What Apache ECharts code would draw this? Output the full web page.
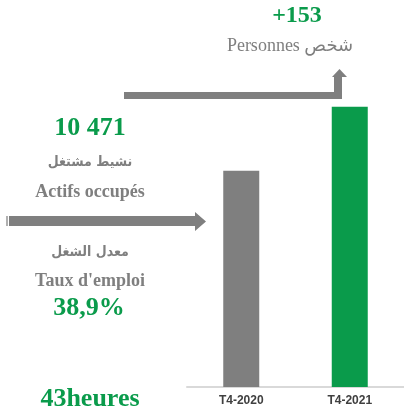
<!DOCTYPE html>
<html>
<head>
<meta charset="utf-8">
<script src="https://cdn.jsdelivr.net/npm/echarts@6/dist/echarts.min.js"></script>
<style>
  html, body { margin: 0; padding: 0; background: #fff; }
  #chart { width: 404px; height: 415px; }
</style>
</head>
<body>
<div id="chart"></div>
<script>
// data
var quarters = ['T4-2020', 'T4-2021'];
var employed = [10318, 10471];
var barColors = ['#7f7f7f', '#0a9b4b'];

var gainText = '+153';
var gainUnit = 'Personnes شخص';
var employedText = '10 471';
var employedLabels = ['نشيط مشتغل', 'Actifs occupés'];
var rateLabels = ['معدل الشغل', "Taux d'emploi"];
var rateText = '38,9%';
var hoursText = '43heures';

var green = '#0a9b4b';
var grey = '#7f7f7f';
var serif = "'Liberation Serif', 'Times New Roman', 'DejaVu Sans', serif";
var arabic = "'DejaVu Sans Condensed', 'DejaVu Sans', sans-serif";

function txt(x, y, s, size, color, bold, family) {
    return {
        type: 'text', x: x, y: y, silent: true,
        style: {
            text: s, fill: color, align: 'center', verticalAlign: 'middle',
            font: (bold ? 'bold ' : '') + size + 'px ' + (family || serif)
        }
    };
}

var chart = echarts.init(document.getElementById('chart'));
chart.setOption({
    animation: false,
    grid: { left: 187, top: 53, width: 224, height: 334 },
    xAxis: {
        type: 'category',
        data: quarters,
        axisLine: { lineStyle: { color: '#d9d9d9', width: 2 } },
        axisTick: { show: false },
        axisLabel: {
            color: '#404040', fontSize: 12, fontWeight: 'bold',
            fontFamily: "'Liberation Sans', Arial, sans-serif", margin: 8
        }
    },
    yAxis: { type: 'value', min: 9800, max: 10600, show: false, splitLine: { show: false } },
    series: [{
        type: 'bar',
        barWidth: 36,
        data: employed.map(function (v, i) {
            return { value: v, itemStyle: { color: barColors[i] } };
        })
    }],
    graphic: [
        // horizontal arrow
        { type: 'polygon', silent: true,
          shape: { points: [[9,216],[195,216],[195,212],[206,221.5],[195,231],[195,226],[9,226]] },
          style: { fill: grey } },
        { type: 'rect', silent: true, shape: { x: 6, y: 216, width: 2, height: 10 },
          style: { fill: '#b0b0b0' } },
        // elbow arrow
        { type: 'polygon', silent: true,
          shape: { points: [[124,92],[334,92],[334,77],[332,77],[339.5,69],[347,77],[342,77],[342,99],[124,99]] },
          style: { fill: grey } },
        txt(297, 16, gainText, 24, green, true),
        txt(290, 46, gainUnit, 18, grey, false),
        txt(90, 128, employedText, 26, green, true),
        txt(90, 162, employedLabels[0], 14, grey, true, arabic),
        txt(90, 192, employedLabels[1], 18, grey, true),
        txt(90, 252, rateLabels[0], 14, grey, true, arabic),
        txt(90, 281, rateLabels[1], 18, grey, true),
        txt(89, 308, rateText, 26, green, true),
        txt(90, 399, hoursText, 26, green, true)
    ]
});
</script>
</body>
</html>
